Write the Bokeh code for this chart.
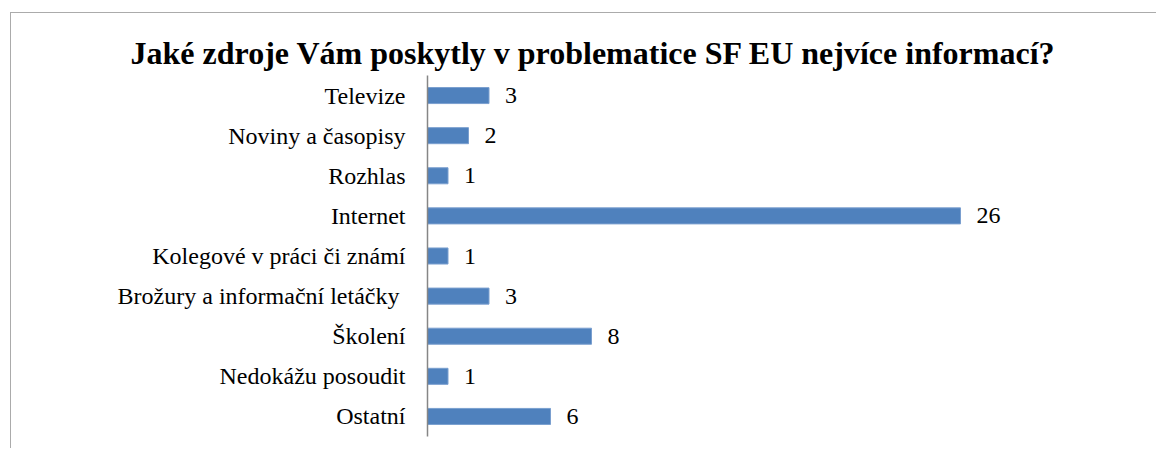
from bokeh.plotting import figure
from bokeh.models import ColumnDataSource, FactorRange, Range1d
from bokeh.core.properties import value
from bokeh.embed import file_html
from bokeh.resources import INLINE

title_text = "Jaké zdroje Vám poskytly v problematice SF EU nejvíce informací?"
categories = ["Televize", "Noviny a časopisy", "Rozhlas", "Internet",
              "Kolegové v práci či známí", "Brožury a informační letáčky ",
              "Školení", "Nedokážu posoudit", "Ostatní"]
counts = [3, 2, 1, 26, 1, 3, 8, 1, 6]
count_labels = [str(c) for c in counts]

FONT = "Liberation Serif"

source = ColumnDataSource(dict(cat=categories, val=counts, lab=count_labels))

p = figure(
    width=1146, height=436,
    y_range=FactorRange(factors=list(reversed(categories))),
    x_range=Range1d(0, 30),
    output_backend="svg", toolbar_location=None,
    min_border_left=416, min_border_right=115,
    min_border_top=62, min_border_bottom=13,
    styles={"border-top": "1px solid #ababab", "border-left": "1px solid #ababab",
            "margin-left": "10px", "margin-top": "12px"},
)
p.title.text = title_text
p.title.align = "left"
p.title.offset = -297
p.title.standoff = 9
p.title.text_font = FONT
p.title.text_font_size = "32px"
p.title.text_font_style = "bold"
p.title.text_color = "#000000"

p.outline_line_color = None
p.xgrid.visible = False
p.ygrid.visible = False
p.xaxis.visible = False

p.hbar(y="cat", right="val", left=0, height=0.4, source=source,
       fill_color="#4F81BD", line_color="#7A9FCF", line_width=1)

p.text(x="val", y="cat", text="lab", source=source, x_offset=16,
       text_baseline="middle", text_align="left",
       text_font=value(FONT), text_font_size="24px", text_color="#000000")

ya = p.yaxis[0]
ya.axis_line_color = "#868686"
ya.axis_line_width = 1.5
ya.major_tick_line_color = None
ya.minor_tick_line_color = None
ya.major_tick_out = 0
ya.major_tick_in = 0
ya.major_label_standoff = 22
ya.major_label_text_font = FONT
ya.major_label_text_font_size = "24px"
ya.major_label_text_color = "#000000"

open("out.html", "w").write(file_html(p, INLINE))
